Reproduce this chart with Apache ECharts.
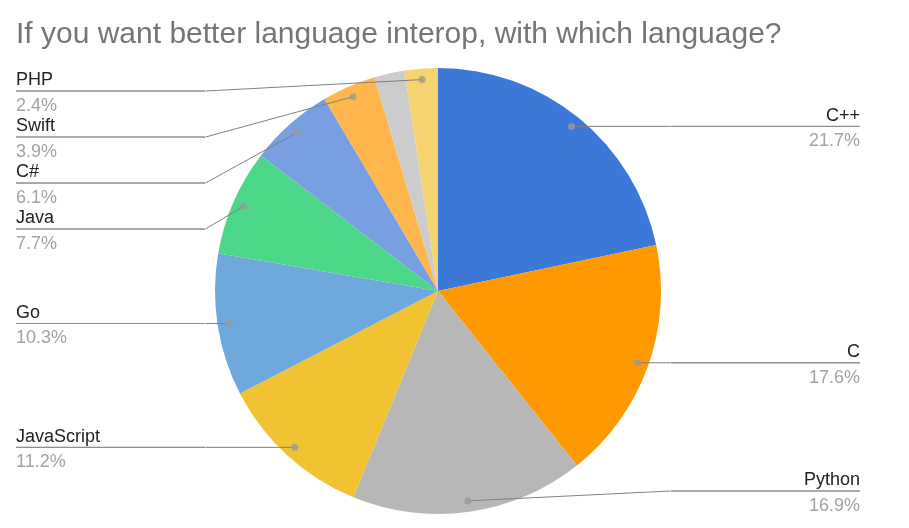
<!DOCTYPE html>
<html><head><meta charset="utf-8">
<script src="https://cdn.jsdelivr.net/npm/echarts@6/dist/echarts.min.js"></script>
<style>html,body{margin:0;padding:0;background:#fff}#c{width:909px;height:528px}</style>
</head><body><div id="c"></div>
<script>
const titleText = 'If you want better language interop, with which language?';
const names = ['C++','C','Python','JavaScript','Go','Java','C#','Swift','Other','PHP'];
const values = [21.7,17.6,16.9,11.2,10.3,7.7,6.1,3.9,2.2,2.4];
const colors = ['#3c78d8','#ff9900','#b7b7b7','#f1c232','#6fa8dc','#4cd888','#789fe2','#ffb74d','#cccccc','#f5d36f'];
const hiddenLabels = ['Other'];

const CX = 438, CY = 291, R = 223, DOT_R = 212;
const SPACING = 46;          // vertical distance between stacked labels
const LH_NAME = 21.5, LH_PCT = 29.5;
const OFF = (LH_PCT - LH_NAME) / 2;
const FONT = '"Liberation Sans", Arial, sans-serif';

const total = values.reduce((a,b)=>a+b,0);
let acc = 0;
const mids = values.map(v => { const m = (acc + v/2) / total * 100; acc += v; return m; });

// anchor points (dots) and stacked label rule positions derived from the data
const dots = mids.map(m => { const t = m/100*2*Math.PI; return [CX + DOT_R*Math.sin(t), CY - DOT_R*Math.cos(t)]; });
const ruleY = dots.map(d => d[1]);
function stack(idx){
  idx.sort((a,b)=>dots[a][1]-dots[b][1]);
  let prev = (CY - R) - SPACING/2;
  idx.forEach(i => { ruleY[i] = Math.max(ruleY[i], prev + SPACING); prev = ruleY[i]; });
  let next = (CY + R) + SPACING/2;
  idx.slice().reverse().forEach(i => { ruleY[i] = Math.min(ruleY[i], next - SPACING); next = ruleY[i]; });
}
const shown = names.map((n,i)=>i).filter(i=>!hiddenLabels.includes(names[i]));
stack(shown.filter(i=>dots[i][0] < CX));
stack(shown.filter(i=>dots[i][0] >= CX));

const pieBase = {
  type:'pie',
  left:0,right:33,top:CY-R,bottom:528-(CY+R),
  center:['50%','50%'],
  radius:R,
  startAngle:90,
  clockwise:true,
  silent:true,
  emphasis:{disabled:true}
};

const chart = echarts.init(document.getElementById('c'), null, {renderer:'canvas'});
chart.setOption({
  animation:false,
  title:{text:titleText,left:11,top:15,textStyle:{fontFamily:FONT,fontSize:30,fontWeight:'normal',color:'#757575'}},
  polar:{center:[CX,CY],radius:R},
  angleAxis:{type:'value',min:0,max:100,startAngle:90,clockwise:true,show:false},
  radiusAxis:{type:'value',min:0,max:R,show:false},
  series:[Object.assign({}, pieBase, {
    z:2,
    label:{show:false},
    labelLine:{show:false},
    itemStyle:{borderWidth:0},
    data: names.map((n,i)=>({name:n, value:values[i], itemStyle:{color:colors[i]}}))
  }), Object.assign({}, pieBase, {
    z:4,
    avoidLabelOverlap:false,
    itemStyle:{color:'rgba(0,0,0,0)',borderWidth:0},
    label:{
      show:true,position:'outer',alignTo:'edge',edgeDistance:16,distanceToLabelLine:0,
      width:189,
      fontFamily:FONT,
      formatter: p => '{n|'+p.name+'}\n{hr|}\n{p|'+p.value.toFixed(1)+'%}',
      rich:{
        n:{fontFamily:FONT,fontSize:18,lineHeight:LH_NAME,color:'#222222'},
        hr:{borderColor:'#8c8c8c',width:'100%',borderWidth:1,height:0},
        p:{fontFamily:FONT,fontSize:18,lineHeight:LH_PCT,color:'#a3a3a3'}
      }
    },
    labelLine:{show:true,length:-11,length2:10,lineStyle:{color:'#7f7f7f',width:1}},
    labelLayout: function(p){
      const i = p.dataIndex;
      if (hiddenLabels.includes(names[i]) || !p.labelRect) return;
      const r = p.labelRect;
      const left = dots[i][0] < CX;
      const ex = left ? r.x + r.width : r.x;
      const y = ruleY[i];
      return {y: y + OFF, labelLinePoints:[dots[i].slice(), [ex, y], [ex, y]]};
    },
    data: names.map((n,i)=>({
      name:n, value:values[i],
      label: hiddenLabels.includes(n) ? {show:false} : undefined,
      labelLine: hiddenLabels.includes(n) ? {show:false} : undefined
    }))
  }),{
    type:'scatter',coordinateSystem:'polar',silent:true,z:5,
    symbolSize:7,itemStyle:{color:'#9a9a9a'},
    data: shown.map(i => [DOT_R, mids[i]])
  }]
});
</script></body></html>
